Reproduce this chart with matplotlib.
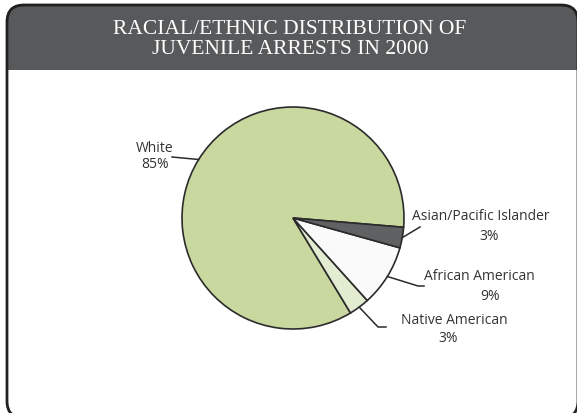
import matplotlib
matplotlib.use("Agg")
import matplotlib.pyplot as plt
from matplotlib.patches import FancyBboxPatch, Rectangle
import numpy as np

# data
categories = ["White", "Native American", "African American", "Asian/Pacific Islander"]
shares = [85, 3, 9, 3]
colors = ["#c9d89f", "#e2ecd0", "#fafafa", "#606163"]
title_lines = ["RACIAL/ETHNIC DISTRIBUTION OF", "JUVENILE ARRESTS IN 2000"]

W, H = 577, 413
fig = plt.figure(figsize=(W / 100, H / 100), dpi=100)
ax = fig.add_axes([0, 0, 1, 1])
ax.set_xlim(0, W)
ax.set_ylim(0, H)
ax.set_aspect("equal")
ax.axis("off")

def iy(y):
    # image row -> axes y (y up)
    return H - y

# frame and banner
frame = FancyBboxPatch((7, iy(418)), 571, 413, boxstyle="round,pad=0,rounding_size=17",
                       facecolor="white", edgecolor="none", zorder=0)
ax.add_patch(frame)
banner = Rectangle((0, iy(70)), W, 70, facecolor="#58595b", edgecolor="none", zorder=1)
ax.add_patch(banner)
banner.set_clip_path(frame)
outline = FancyBboxPatch((7, iy(418)), 571, 413, boxstyle="round,pad=0,rounding_size=17",
                         facecolor="none", edgecolor="#231f20", linewidth=2, zorder=5)
ax.add_patch(outline)

for k, line in enumerate(title_lines):
    ax.text(290, iy(29.5 + 19.5 * k), line, color="white", ha="center", va="center",
            fontsize=15.5, family="Liberation Serif", zorder=6)

# pie
cx, cy, r = 293, iy(218), 111
wedges, _ = ax.pie(shares, colors=colors, startangle=-4.8, counterclock=True,
                   center=(cx, cy), radius=r, frame=True,
                   wedgeprops=dict(edgecolor="#2b2b2b", linewidth=1.2))
ax.set_xlim(0, W)
ax.set_ylim(0, H)
ax.axis("off")

# label layout: (line end x, line end y, tail dx, name x, name y, pct x, pct y)
layout = {
    "White": (172, 157, 0, 155, 148, 155, 165),
    "Native American": (378, 327, 8, 454, 320, 448, 338),
    "African American": (418, 286, 6, 479, 277, 490, 296),
    "Asian/Pacific Islander": (420, 227, 0, 481, 216, 489, 237),
}

for w, name, val in zip(wedges, categories, shares):
    mid = np.deg2rad((w.theta1 + w.theta2) / 2)
    ex, ey = cx + r * np.cos(mid), cy + r * np.sin(mid)
    lx, ly, tail, nx, ny, px, py = layout[name]
    xs = [ex, lx]
    ys = [ey, iy(ly)]
    if tail:
        xs.append(lx + tail)
        ys.append(iy(ly))
    ax.plot(xs, ys, color="#2b2b2b", linewidth=1.1, zorder=4)
    ax.text(nx, iy(ny), name, ha="center", va="center", fontsize=10,
            family="Open Sans", color="#333333", zorder=6)
    ax.text(px, iy(py), f"{val}%", ha="center", va="center", fontsize=10,
            family="Open Sans", color="#333333", zorder=6)

fig.savefig("out.png", dpi=100)
